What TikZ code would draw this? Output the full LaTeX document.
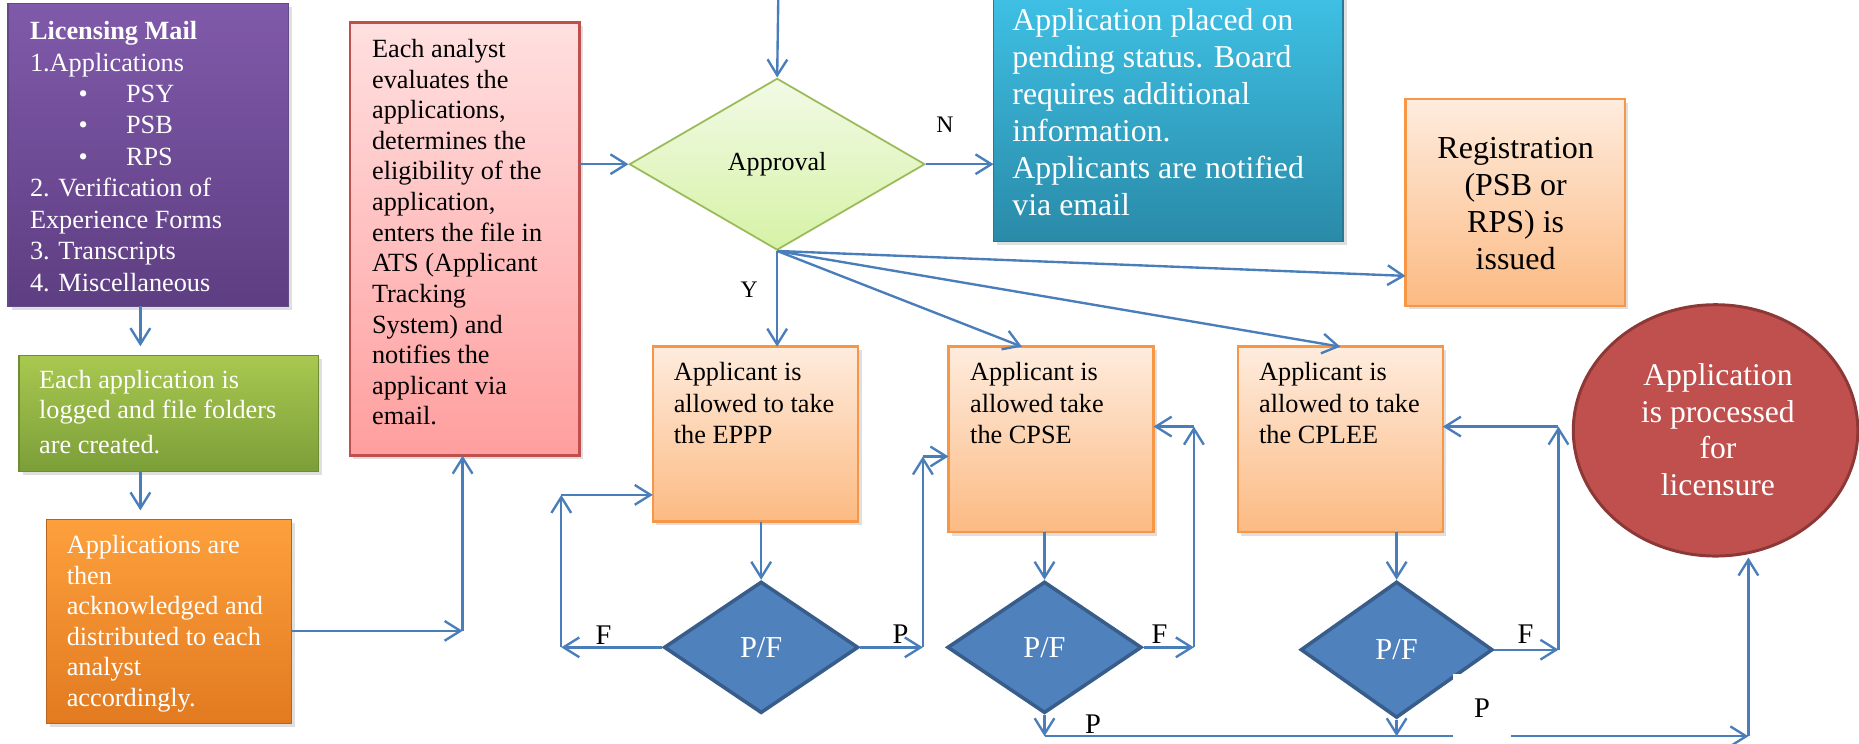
\documentclass[tikz,border=0pt]{standalone}
\usepackage{fontspec}
\setmainfont{Liberation Serif}
\usetikzlibrary{arrows.meta,shapes.geometric,shadows,calc}
\definecolor{arrblue}{RGB}{74,126,187}
\definecolor{purT}{RGB}{128,90,170}\definecolor{purB}{RGB}{94,62,130}\definecolor{purD}{RGB}{100,75,135}
\definecolor{grnT}{RGB}{168,200,80}\definecolor{grnB}{RGB}{124,158,56}\definecolor{grnD}{RGB}{110,140,50}
\definecolor{orgT}{RGB}{253,160,60}\definecolor{orgB}{RGB}{226,122,32}\definecolor{orgD}{RGB}{182,100,30}
\definecolor{pinkT}{RGB}{255,224,224}\definecolor{pinkB}{RGB}{255,158,158}\definecolor{pinkD}{RGB}{192,80,77}
\definecolor{bluT}{RGB}{62,192,228}\definecolor{bluB}{RGB}{42,138,168}\definecolor{bluD}{RGB}{40,120,150}
\definecolor{peachT}{RGB}{254,236,222}\definecolor{peachB}{RGB}{252,186,130}\definecolor{peachD}{RGB}{247,150,70}
\definecolor{apprT}{RGB}{242,250,230}\definecolor{apprB}{RGB}{214,242,166}\definecolor{apprD}{RGB}{155,187,89}
\definecolor{pfF}{RGB}{79,129,189}\definecolor{pfD}{RGB}{56,93,138}
\definecolor{circF}{RGB}{192,80,77}\definecolor{circD}{RGB}{140,56,54}
\newcommand{\mylines}[1]{\begin{tabular}[t]{@{}l@{}}#1\end{tabular}}
\newcommand{\myclines}[1]{\begin{tabular}[t]{@{}c@{}}#1\end{tabular}}
\begin{document}
\begin{tikzpicture}[x=0.6pt,y=-0.6pt,
  box/.style={rectangle, anchor=north west, inner sep=0pt, outer sep=0pt},
  shad/.style={drop shadow={opacity=0.25,shadow xshift=1.8pt,shadow yshift=-1.8pt}},
  txt/.style={inner sep=0pt, anchor=base west},
  ctxt/.style={inner sep=0pt, anchor=base},
  arr/.style={draw=arrblue, line width=1.2pt, -{Straight Barb[length=8pt,width=10pt]}},
  lab/.style={inner sep=0pt, font=\fontsize{14.4}{16}\selectfont},
  slab/.style={inner sep=0pt, font=\fontsize{12}{14}\selectfont},
  peach/.style={box, shad, top color=peachT, bottom color=peachB, draw=peachD, line width=1.2pt},
  pf/.style={diamond, draw=pfD, line width=1.8pt, fill=pfF, text=white, inner sep=0pt,
    font=\fontsize{15.4}{17}\selectfont, minimum width=98.4pt, minimum height=66.6pt}
]
\useasboundingbox (0,0) rectangle (1568,627);

% boxes
\node[box, shad, minimum width=142.1pt, minimum height=153.4pt, top color=purT, bottom color=purB, draw=purD, line width=0.6pt] (purple) at (6.7,2.8) {};
\node[box, shad, minimum width=151.5pt, minimum height=58.7pt, top color=grnT, bottom color=grnB, draw=grnD, line width=0.6pt] (green) at (16,300) {};
\node[box, shad, minimum width=123.8pt, minimum height=102.9pt, top color=orgT, bottom color=orgB, draw=orgD, line width=0.6pt] (orange) at (39.4,438.5) {};
\node[box, shad, minimum width=116.2pt, minimum height=219.2pt, top color=pinkT, bottom color=pinkB, draw=pinkD, line width=1.2pt] (red) at (295,19) {};
\node[box, shad, minimum width=176.9pt, minimum height=124pt, top color=bluT, bottom color=bluB, draw=bluD, line width=0.6pt] (blue) at (838,-3) {};
\node[peach, minimum width=111pt, minimum height=104.7pt] (reg) at (1185.5,83.5) {};
\node[peach, minimum width=103.9pt, minimum height=88.5pt] (eppp) at (550.6,292.4) {};
\node[peach, minimum width=103.8pt, minimum height=93.9pt] (cpse) at (800,292.4) {};
\node[peach, minimum width=103.8pt, minimum height=93.9pt] (cplee) at (1044,292.4) {};

% diamonds and circle
\node[diamond, draw=apprD, line width=0.9pt, top color=apprT, bottom color=apprB, inner sep=0pt,
  minimum width=149.6pt, minimum height=86.9pt, font=\fontsize{13.2}{15}\selectfont] (appr) at (655.5,138.5) {Approval};
\node[pf] (pf1) at (642,546) {P/F};
\node[pf] (pf2) at (881,546) {P/F};
\node[pf, minimum width=97.2pt, minimum height=69pt] (pf3) at (1178,548) {P/F};
\node[ellipse, draw=circD, line width=1.5pt, fill=circF, inner sep=0pt, minimum width=144pt, minimum height=127.2pt] (circ) at (1447,363) {};

% texts
\node[txt, text=white, font=\fontsize{13.3}{15.9}\selectfont] (purpleT) at (25,33.5) {\mylines{\textbf{Licensing Mail}\\1.Applications\\
  \hspace*{24.6pt}\makebox[24pt][l]{\textbullet}PSY\\
  \hspace*{24.6pt}\makebox[24pt][l]{\textbullet}PSB\\
  \hspace*{24.6pt}\makebox[24pt][l]{\textbullet}RPS\\
  2. Verification of\\Experience Forms\\3. Transcripts\\4. Miscellaneous}};
\node[txt, text=white, font=\fontsize{13.3}{15.2}\selectfont] (greenT) at (32.7,327.9) {\mylines{Each application is\\logged and file folders\\[2.5pt]are created.}};
\node[txt, text=white, font=\fontsize{13.3}{15.4}\selectfont] (orangeT) at (56,467.2) {\mylines{Applications are\\then\\acknowledged and\\distributed to each\\analyst\\accordingly.}};
\node[txt, font=\fontsize{13.3}{15.5}\selectfont] (redT) at (313.5,48.4) {\mylines{Each analyst\\evaluates the\\applications,\\determines the\\eligibility of the\\application,\\enters the file in\\ATS (Applicant\\Tracking\\System) and\\notifies the\\applicant via\\email.}};
\node[txt, text=white, font=\fontsize{16.1}{18.7}\selectfont] (blueT) at (853.6,25.8) {\mylines{Application placed on\\pending status. Board\\requires additional\\information.\\Applicants are notified\\via email}};
\node[ctxt, font=\fontsize{16.2}{18.8}\selectfont] (regT) at (1278.4,133.5) {\myclines{Registration\\(PSB or\\RPS) is\\issued}};
\node[txt, font=\fontsize{13.3}{15.9}\selectfont] (epppT) at (568,321) {\mylines{Applicant is\\allowed to take\\the EPPP}};
\node[txt, font=\fontsize{13.3}{15.9}\selectfont] (cpseT) at (818,321) {\mylines{Applicant is\\allowed take\\the CPSE}};
\node[txt, font=\fontsize{13.3}{15.9}\selectfont] (cpleeT) at (1061.7,321) {\mylines{Applicant is\\allowed to take\\the CPLEE}};
\node[ctxt, text=white, font=\fontsize{16}{18.5}\selectfont] (circT) at (1449,325.1) {\myclines{Application\\is processed\\for\\licensure}};

% helper coordinates
\coordinate (xa) at (118.4,0);
\coordinate (c1) at (390.2,532.1);
\coordinate (topin) at (656.5,-5);
\coordinate (f1x) at (473.4,417.4);
\coordinate (p1x) at (778.4,385);
\coordinate (f2x) at (1007,359.8);
\coordinate (f3x) at (1314.5,359.8);
\coordinate (py) at (0,621);
\coordinate (pcx) at (1474.7,621);

% connectors
\draw[arr, shorten >=4.8pt] (purple.south -| xa) -- (green.north -| xa);
\draw[arr, shorten >=4.8pt] (green.south -| xa) -- (orange.north -| xa);
\draw[arr] (orange.east |- c1) -- (c1);
\draw[arr] (c1) -- (red.south -| c1);
\draw[arr] (red.east |- appr.west) -- (appr.west);
\draw[arr] (topin) -- (appr.north);
\draw[arr] (appr.east) -- (appr.east -| blue.west);
\draw[arr] (appr.south) -- (appr.south |- eppp.north);
\draw[arr] (appr.south) -- ($(cpse.north west)!0.358!(cpse.north east)$);
\draw[arr] (appr.south) -- (cplee.north);
\draw[arr] (appr.south) -- ($(reg.north west)!0.855!(reg.south west)$);

\draw[arr] (pf1.north |- eppp.south) -- (pf1.north);
\draw[arr] (pf2.north |- cpse.south) -- (pf2.north);
\draw[arr] (pf3.north |- cplee.south) -- (pf3.north);

\draw[arr] (pf1.west) -- (pf1.west -| f1x);
\draw[arr] (pf1.west -| f1x) -- (f1x);
\draw[arr] (f1x) -- (f1x -| eppp.west);

\draw[arr] (pf1.east) -- (pf1.east -| p1x);
\draw[arr] (pf1.east -| p1x) -- (p1x);
\draw[arr] (p1x) -- (p1x -| cpse.west);

\draw[arr] (pf2.east) -- (pf2.east -| f2x);
\draw[arr] (pf2.east -| f2x) -- (f2x);
\draw[arr] (f2x) -- (f2x -| cpse.east);

\draw[arr] (pf3.east) -- (pf3.east -| f3x);
\draw[arr] (pf3.east -| f3x) -- (f3x);
\draw[arr] (f3x) -- (f3x -| cplee.east);

\draw[arr] (pf2.south) -- (pf2.south |- py);
\draw[arr] (pf3.south) -- (pf3.south |- py);
\draw[arr] (pf2.south |- py) -- (pcx);
\draw[arr] (pcx) -- (pcx |- circ.south);

% labels
\node[slab] (nlab) at (797,105.4) {N};
\node[slab] (ylab) at (632,244.5) {Y};
\node[lab] (f1lab) at (509,535.4) {F};
\node[lab] (p1lab) at (759.6,535) {P};
\node[lab] (f2lab) at (978,535) {F};
\node[lab] (p2lab) at (922,611) {P};
\node[lab] (f3lab) at (1286.8,535) {F};
\node[lab, fill=white, minimum width=29pt, minimum height=34pt] (p3lab) at (1250,597) {P};
\end{tikzpicture}
\end{document}
